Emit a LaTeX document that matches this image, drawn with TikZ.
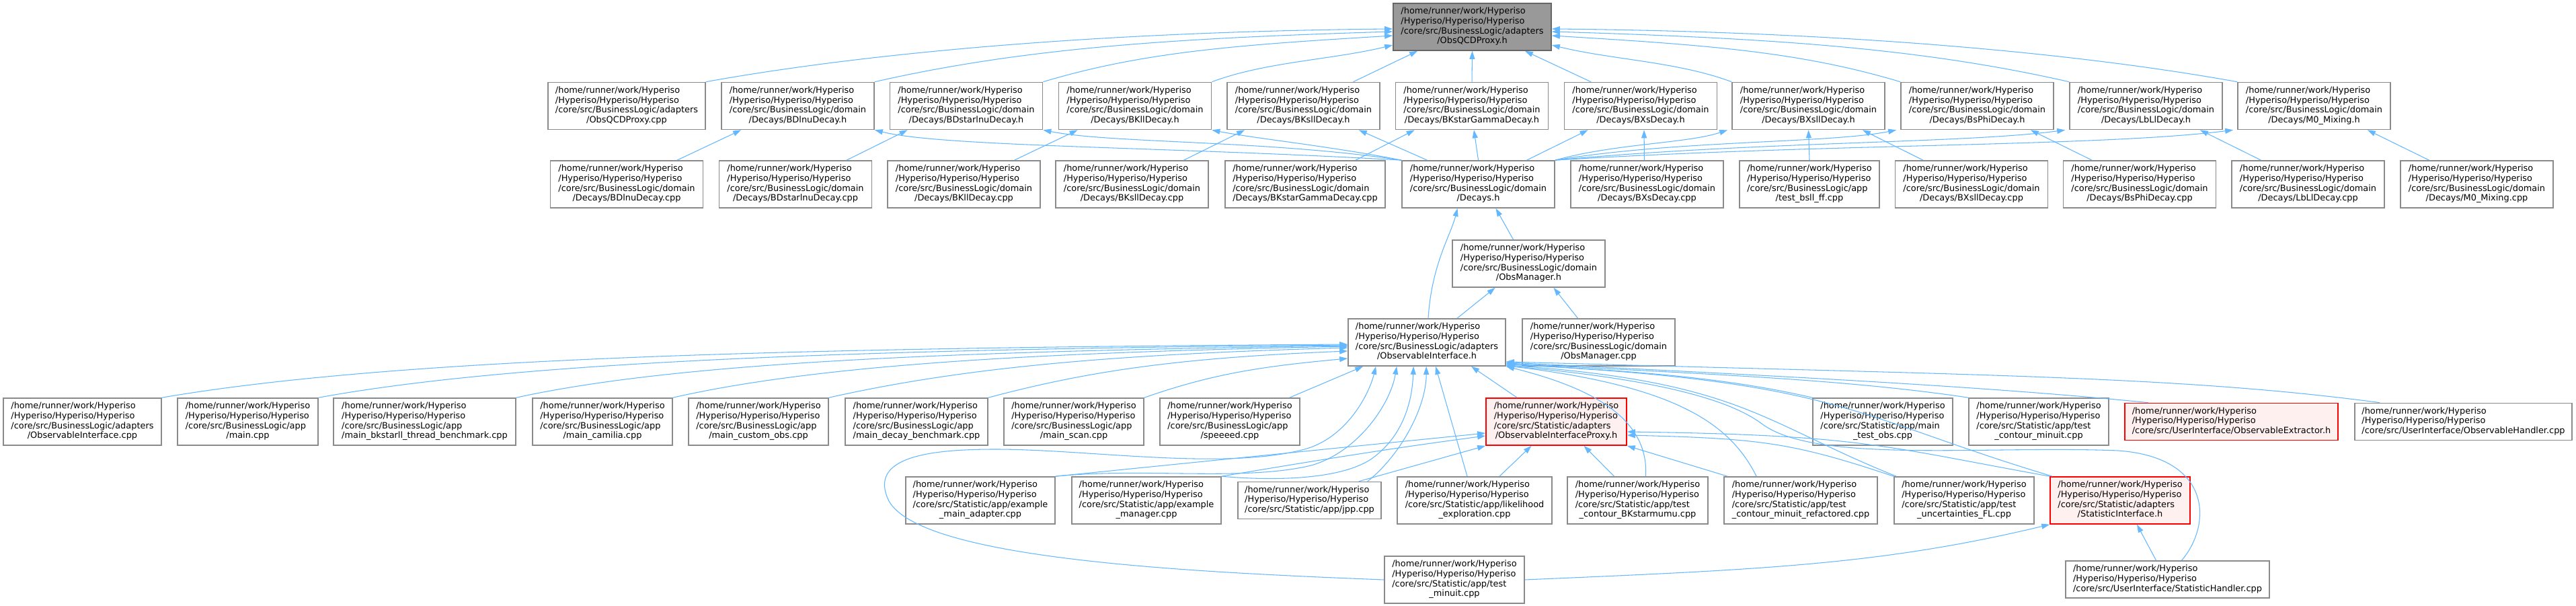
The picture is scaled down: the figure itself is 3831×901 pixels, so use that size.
\documentclass[tikz,border=0pt]{standalone}
\usepackage{fontspec}
\setmainfont{DejaVu Sans}
\usetikzlibrary{calc, arrows.meta}

\definecolor{edgeblue}{HTML}{63B8FF}
\definecolor{boxborder}{HTML}{8A8A8A}
\definecolor{rootborder}{HTML}{666666}
\definecolor{rootfill}{HTML}{999999}
\definecolor{cutfill}{HTML}{FFF0F0}

% rows of the graph (px, y downwards)
\newcommand{\ROOTY}{40}
\newcommand{\HEADERY}{157.5}
\newcommand{\SOURCEY}{274}
\newcommand{\MANAGERY}{392}
\newcommand{\INTERFACEY}{509}
\newcommand{\APPY}{627}
\newcommand{\STATY}{744}
\newcommand{\BOTTOMY}{862}

\newcommand{\FILEFONT}{\fontsize{3.67pt}{4.18pt}\selectfont}
\newcommand{\HYPERISO}{/home/runner/work/Hyperiso\\/Hyperiso/Hyperiso/Hyperiso}
\newcommand{\fpath}[2]{\begin{tabular}{@{}l@{}}\HYPERISO\\#1\\\multicolumn{1}{@{}c@{}}{#2}\end{tabular}}
\newcommand{\fpathshort}[1]{\begin{tabular}{@{}l@{}}\HYPERISO\\\multicolumn{1}{@{}c@{}}{#1}\end{tabular}}

\tikzset{
  file/.style={draw=boxborder, fill=white, line width=0.45pt, inner sep=0pt,
    minimum width=2.27cm, minimum height=0.70cm, font=\FILEFONT},
  file3/.style={file, minimum height=0.55cm},
  rootfile/.style={draw=rootborder, fill=rootfill},
  cutfile/.style={draw=red, fill=cutfill},
  dep/.style={draw=edgeblue, line width=0.3pt, -{Triangle[length=0.12cm, width=0.08cm]}}
}

\begin{document}
\begin{tikzpicture}[x=0.01cm, y=-0.01cm]
        \fill[white] (0,0) rectangle (3831,901);
        \useasboundingbox (0,0) rectangle (3831,901);

        % 被包含的文件
        \node[file, rootfile, minimum width=2.35cm] (root) at (2189.5,\ROOTY) {\fpath{/core/src/BusinessLogic/adapters}{/ObsQCDProxy.h}};

        % 第二行: 头文件
        \node[file, minimum width=2.34cm] (qcdcpp) at (932,\HEADERY) {\fpath{/core/src/BusinessLogic/adapters}{/ObsQCDProxy.cpp}};
        \node[file] (bdlnuh) at (1186.5,\HEADERY) {\fpath{/core/src/BusinessLogic/domain}{/Decays/BDlnuDecay.h}};
        \node[file] (bdstarh) at (1437,\HEADERY) {\fpath{/core/src/BusinessLogic/domain}{/Decays/BDstarlnuDecay.h}};
        \node[file] (bkllh) at (1688,\HEADERY) {\fpath{/core/src/BusinessLogic/domain}{/Decays/BKllDecay.h}};
        \node[file] (bksllh) at (1938.5,\HEADERY) {\fpath{/core/src/BusinessLogic/domain}{/Decays/BKsllDecay.h}};
        \node[file] (bkgammah) at (2189,\HEADERY) {\fpath{/core/src/BusinessLogic/domain}{/Decays/BKstarGammaDecay.h}};
        \node[file] (bxsh) at (2440,\HEADERY) {\fpath{/core/src/BusinessLogic/domain}{/Decays/BXsDecay.h}};
        \node[file] (bxsllh) at (2689.5,\HEADERY) {\fpath{/core/src/BusinessLogic/domain}{/Decays/BXsllDecay.h}};
        \node[file] (bsphih) at (2940.5,\HEADERY) {\fpath{/core/src/BusinessLogic/domain}{/Decays/BsPhiDecay.h}};
        \node[file] (lbllh) at (3191.5,\HEADERY) {\fpath{/core/src/BusinessLogic/domain}{/Decays/LbLlDecay.h}};
        \node[file] (m0h) at (3441.5,\HEADERY) {\fpath{/core/src/BusinessLogic/domain}{/Decays/M0\_Mixing.h}};

        % 第三行: 源文件
        \node[file] (bdlnucpp) at (932,\SOURCEY) {\fpath{/core/src/BusinessLogic/domain}{/Decays/BDlnuDecay.cpp}};
        \node[file] (bdstarcpp) at (1183,\SOURCEY) {\fpath{/core/src/BusinessLogic/domain}{/Decays/BDstarlnuDecay.cpp}};
        \node[file] (bkllcpp) at (1433.5,\SOURCEY) {\fpath{/core/src/BusinessLogic/domain}{/Decays/BKllDecay.cpp}};
        \node[file] (bksllcpp) at (1683.5,\SOURCEY) {\fpath{/core/src/BusinessLogic/domain}{/Decays/BKsllDecay.cpp}};
        \node[file, minimum width=2.38cm] (bkgammacpp) at (1941,\SOURCEY) {\fpath{/core/src/BusinessLogic/domain}{/Decays/BKstarGammaDecay.cpp}};
        \node[file] (decaysh) at (2198.5,\SOURCEY) {\fpath{/core/src/BusinessLogic/domain}{/Decays.h}};
        \node[file] (bxscpp) at (2449.5,\SOURCEY) {\fpath{/core/src/BusinessLogic/domain}{/Decays/BXsDecay.cpp}};
        \node[file, minimum width=2.08cm] (bsllff) at (2691,\SOURCEY) {\fpath{/core/src/BusinessLogic/app}{/test\_bsll\_ff.cpp}};
        \node[file] (bxsllcpp) at (2932,\SOURCEY) {\fpath{/core/src/BusinessLogic/domain}{/Decays/BXsllDecay.cpp}};
        \node[file] (bsphicpp) at (3182,\SOURCEY) {\fpath{/core/src/BusinessLogic/domain}{/Decays/BsPhiDecay.cpp}};
        \node[file] (lbllcpp) at (3432.5,\SOURCEY) {\fpath{/core/src/BusinessLogic/domain}{/Decays/LbLlDecay.cpp}};
        \node[file] (m0cpp) at (3683.5,\SOURCEY) {\fpath{/core/src/BusinessLogic/domain}{/Decays/M0\_Mixing.cpp}};

        % ObsManager 与 ObservableInterface
        \node[file] (obsmanh) at (2273.5,\MANAGERY) {\fpath{/core/src/BusinessLogic/domain}{/ObsManager.h}};
        \node[file, minimum width=2.34cm] (obsifh) at (2122,\INTERFACEY) {\fpath{/core/src/BusinessLogic/adapters}{/ObservableInterface.h}};
        \node[file] (obsmancpp) at (2377.5,\INTERFACEY) {\fpath{/core/src/BusinessLogic/domain}{/ObsManager.cpp}};

        % 第五行: 应用程序
        \node[file, minimum width=2.35cm] (obsifcpp) at (122.5,\APPY) {\fpath{/core/src/BusinessLogic/adapters}{/ObservableInterface.cpp}};
        \node[file, minimum width=2.09cm] (maincpp) at (368.5,\APPY) {\fpath{/core/src/BusinessLogic/app}{/main.cpp}};
        \node[file, minimum width=2.71cm] (mainbk) at (631.5,\APPY) {\fpath{/core/src/BusinessLogic/app}{/main\_bkstarll\_thread\_benchmark.cpp}};
        \node[file, minimum width=2.08cm] (maincam) at (896,\APPY) {\fpath{/core/src/BusinessLogic/app}{/main\_camilia.cpp}};
        \node[file, minimum width=2.08cm] (maincust) at (1128,\APPY) {\fpath{/core/src/BusinessLogic/app}{/main\_custom\_obs.cpp}};
        \node[file, minimum width=2.12cm] (maindecay) at (1363,\APPY) {\fpath{/core/src/BusinessLogic/app}{/main\_decay\_benchmark.cpp}};
        \node[file, minimum width=2.08cm] (mainscan) at (1597,\APPY) {\fpath{/core/src/BusinessLogic/app}{/main\_scan.cpp}};
        \node[file, minimum width=2.08cm] (speeeed) at (1829,\APPY) {\fpath{/core/src/BusinessLogic/app}{/speeeed.cpp}};
        \node[file, cutfile, minimum width=2.09cm] (proxyh) at (2314.5,\APPY) {\fpath{/core/src/Statistic/adapters}{/ObservableInterfaceProxy.h}};
        \node[file, minimum width=2.08cm] (maintestobs) at (2800,\APPY) {\fpath{/core/src/Statistic/app/main}{\_test\_obs.cpp}};
        \node[file, minimum width=2.08cm] (testcontour) at (3032,\APPY) {\fpath{/core/src/Statistic/app/test}{\_contour\_minuit.cpp}};
        \node[file3, cutfile, minimum width=3.17cm] (extractor) at (3318.5,\APPY) {\fpathshort{/core/src/UserInterface/ObservableExtractor.h}};
        \node[file3, minimum width=3.23cm] (handler) at (3663.5,\APPY) {\fpathshort{/core/src/UserInterface/ObservableHandler.cpp}};

        % 第六行: Statistic
        \node[file, minimum width=2.22cm] (exadapter) at (1458,\STATY) {\fpath{/core/src/Statistic/app/example}{\_main\_adapter.cpp}};
        \node[file, minimum width=2.22cm] (exmanager) at (1705,\STATY) {\fpath{/core/src/Statistic/app/example}{\_manager.cpp}};
        \node[file3, minimum width=2.13cm] (jpp) at (1947.5,\STATY) {\fpathshort{/core/src/Statistic/app/jpp.cpp}};
        \node[file, minimum width=2.30cm] (likelihood) at (2193,\STATY) {\fpath{/core/src/Statistic/app/likelihood}{\_exploration.cpp}};
        \node[file, minimum width=2.09cm] (contourbk) at (2435.5,\STATY) {\fpath{/core/src/Statistic/app/test}{\_contour\_BKstarmumu.cpp}};
        \node[file, minimum width=2.28cm] (contourref) at (2678,\STATY) {\fpath{/core/src/Statistic/app/test}{\_contour\_minuit\_refactored.cpp}};
        \node[file, minimum width=2.08cm] (uncertfl) at (2921,\STATY) {\fpath{/core/src/Statistic/app/test}{\_uncertainties\_FL.cpp}};
        \node[file, cutfile, minimum width=2.08cm] (statifh) at (3153,\STATY) {\fpath{/core/src/Statistic/adapters}{/StatisticInterface.h}};

        % 最后一行
        \node[file, minimum width=2.08cm] (testminuit) at (2163,\BOTTOMY) {\fpath{/core/src/Statistic/app/test}{\_minuit.cpp}};
        \node[file3, minimum width=3.03cm] (stathandler) at (3223.5,861.5) {\fpathshort{/core/src/UserInterface/StatisticHandler.cpp}};

        % 指向 ObsQCDProxy.h
        \draw[dep] (qcdcpp.north east) .. controls +(250,-45) and +(-420,4) .. ($(root.west)+(0,3)$);
        \draw[dep] (bdlnuh.north east) .. controls +(220,-50) and +(-330,10) .. ($(root.west)+(0,7)$);
        \draw[dep] (bdstarh.north east) .. controls +(150,-45) and +(-230,14) .. ($(root.west)+(0,13)$);
        \draw[dep] (bkllh.north east) .. controls +(80,-30) and +(-90,22) .. ($(root.west)+(0,27)$);
        \draw[dep] ($(bksllh.north)+(74,0)$) -- ($(root.south west)+(37,0)$);
        \draw[dep] (bkgammah.north) -- (root.south);
        \draw[dep] ($(bxsh.north)+(-74,0)$) -- ($(root.south east)+(-40,0)$);
        \draw[dep] (bxsllh.north west) .. controls +(-80,-30) and +(90,22) .. ($(root.east)+(0,27)$);
        \draw[dep] (bsphih.north west) .. controls +(-150,-45) and +(230,14) .. ($(root.east)+(0,13)$);
        \draw[dep] (lbllh.north west) .. controls +(-220,-50) and +(330,10) .. ($(root.east)+(0,7)$);
        \draw[dep] (m0h.north west) .. controls +(-250,-45) and +(420,4) .. ($(root.east)+(0,3)$);

        % 源文件 -> 头文件
        \draw[dep] ($(bdlnucpp.north)+(75,0)$) -- ($(bdlnuh.south west)+(30,0)$);
        \draw[dep] ($(bdstarcpp.north)+(76,0)$) -- ($(bdstarh.south west)+(27,0)$);
        \draw[dep] ($(bkllcpp.north)+(75,0)$) -- ($(bkllh.south west)+(29,0)$);
        \draw[dep] ($(bksllcpp.north)+(77,0)$) -- ($(bksllh.south west)+(27,0)$);
        \draw[dep] ($(bkgammacpp.north)+(75,0)$) -- ($(bkgammah.south west)+(29,0)$);
        \draw[dep] ($(bxscpp.north)+(-4,0)$) -- ($(bxsh.south)+(5,0)$);
        \draw[dep] (bsllff.north) -- (bxsllh.south);
        \draw[dep] ($(bxsllcpp.north)+(-72,0)$) -- ($(bxsllh.south east)+(-34,0)$);
        \draw[dep] ($(bsphicpp.north)+(-71,0)$) -- ($(bsphih.south east)+(-35,0)$);
        \draw[dep] ($(lbllcpp.north)+(-70,0)$) -- ($(lbllh.south east)+(-34,0)$);
        \draw[dep] ($(m0cpp.north)+(-71,0)$) -- ($(m0h.south east)+(-35,0)$);

        % Decays.h -> 各个头文件
        \draw[dep] (decaysh.north west) .. controls +(-350,-20) and +(100,25) .. (bdlnuh.south east);
        \draw[dep] (decaysh.north west) .. controls +(-200,-30) and +(100,20) .. (bdstarh.south east);
        \draw[dep] (decaysh.north west) .. controls +(-100,-20) and +(60,12) .. (bkllh.south east);
        \draw[dep] ($(decaysh.north)+(-76,0)$) -- ($(bksllh.south east)+(-32,0)$);
        \draw[dep] (decaysh.north) -- ($(bkgammah.south)+(3,0)$);
        \draw[dep] ($(decaysh.north)+(72,0)$) -- ($(bxsh.south west)+(36,0)$);
        \draw[dep] (decaysh.north east) .. controls +(90,-25) and +(-60,20) .. ($(bxsllh.south west)+(-6,0)$);
        \draw[dep] (decaysh.north east) .. controls +(180,-30) and +(-100,20) .. ($(bsphih.south west)+(-6,0)$);
        \draw[dep] (decaysh.north east) .. controls +(300,-28) and +(-150,20) .. ($(lbllh.south west)+(-6,0)$);
        \draw[dep] (decaysh.north east) .. controls +(400,-25) and +(-200,25) .. ($(m0h.south west)+(-6,0)$);

        % ObsManager
        \draw[dep] ($(obsmanh.north)+(-23,0)$) -- ($(decaysh.south)+(26,0)$);
        \draw[dep] ($(obsifh.north)+(2,0)$) .. controls +(5,-80) and +(-10,40) .. ($(decaysh.south)+(-31,0)$);
        \draw[dep] ($(obsifh.north)+(45,0)$) -- ($(obsmanh.south)+(-50,0)$);
        \draw[dep] ($(obsmancpp.north)+(-31,0)$) -- ($(obsmanh.south)+(37,0)$);

        % 应用程序 -> ObservableInterface.h
        \draw[dep] (obsifcpp.north east) .. controls +(350,-60) and +(-800,5) .. ($(obsifh.west)+(0,3)$);
        \draw[dep] (maincpp.north east) .. controls +(300,-55) and +(-700,6) .. ($(obsifh.west)+(0,4)$);
        \draw[dep] (mainbk.north east) .. controls +(250,-55) and +(-550,8) .. ($(obsifh.west)+(0,5)$);
        \draw[dep] (maincam.north east) .. controls +(220,-50) and +(-450,9) .. ($(obsifh.west)+(0,6)$);
        \draw[dep] (maincust.north east) .. controls +(200,-45) and +(-350,10) .. ($(obsifh.west)+(0,8)$);
        \draw[dep] (maindecay.north east) .. controls +(150,-40) and +(-250,10) .. ($(obsifh.west)+(0,13)$);
        \draw[dep] (mainscan.north east) .. controls +(100,-35) and +(-130,12) .. ($(obsifh.west)+(0,24)$);
        \draw[dep] ($(speeeed.north east)+(-16,0)$) -- ($(obsifh.south west)+(23,0)$);

        % 下方 -> ObservableInterface.h
        \draw[dep] (testminuit.west) .. controls (1750,850) and (1370,830) .. (1322,745)
            .. controls (1290,680) and (1380,668) .. (1480,668)
            .. controls (1620,668) and (1820,700) .. (1940,668)
            .. controls (2000,652) and (2035,590) .. ($(obsifh.south west)+(42,0)$);
        \draw[dep] (exadapter.north east) .. controls (1700,695) and (1850,716) .. (1950,692)
            .. controls (2020,672) and (2068,600) .. ($(obsifh.south west)+(73,0)$);
        \draw[dep] (exmanager.north east) .. controls (1880,714) and (1990,716) .. (2040,682)
            .. controls (2085,650) and (2100,600) .. ($(obsifh.south west)+(98,0)$);
        \draw[dep] ($(jpp.north east)+(-21,0)$) .. controls +(50,-40) and +(0,60) .. ($(obsifh.south west)+(117,0)$);
        \draw[dep] ($(likelihood.north)+(-11,0)$) -- ($(obsifh.south)+(13,0)$);
        \draw[dep] ($(proxyh.north west)+(47,0)$) -- ($(obsifh.south)+(66,0)$);
        \draw[dep] ($(contourbk.north)+(12,0)$) .. controls +(5,-90) and +(120,30) .. (obsifh.south east);
        \draw[dep] ($(contourref.north west)+(49,0)$) .. controls +(-40,-80) and +(250,30) .. ($(obsifh.south east)+(0,-1)$);
        \draw[dep] ($(uncertfl.north west)+(4,0)$) .. controls +(-200,-80) and +(350,25) .. ($(obsifh.south east)+(0,-2)$);
        \draw[dep] ($(statifh.north west)+(4,0)$) .. controls +(-300,-90) and +(500,25) .. ($(obsifh.south east)+(0,-3)$);
        \draw[dep] ($(stathandler.north)+(21,0)$) .. controls (3290,780) and (3290,680) .. (3150,670)
            .. controls (2950,662) and (2700,690) .. (2620,630)
            .. controls (2560,585) and (2420,560) .. ($(obsifh.south east)+(0,-1)$);
        \draw[dep] (maintestobs.north west) .. controls +(-150,-35) and +(150,10) .. ($(obsifh.south east)+(0,-4)$);
        \draw[dep] (testcontour.north west) .. controls +(-200,-30) and +(250,15) .. ($(obsifh.south east)+(0,-5)$);
        \draw[dep] ($(extractor.north west)+(36,0)$) .. controls +(-250,-25) and +(400,20) .. ($(obsifh.south east)+(0,-6)$);
        \draw[dep] ($(handler.north west)+(38,0)$) .. controls +(-300,-40) and +(700,20) .. ($(obsifh.south east)+(0,-7)$);

        % -> ObservableInterfaceProxy.h
        \draw[dep] (exadapter.north east) .. controls +(200,-20) and +(-200,20) .. ($(proxyh.west)+(0,17)$);
        \draw[dep] (exmanager.north east) .. controls +(150,-25) and +(-150,20) .. ($(proxyh.west)+(0,21)$);
        \draw[dep] ($(jpp.north east)+(-34,0)$) -- (proxyh.south west);
        \draw[dep] ($(likelihood.north)+(37,0)$) -- ($(proxyh.south)+(-37,0)$);
        \draw[dep] ($(contourbk.north)+(-35,0)$) -- ($(proxyh.south)+(41,0)$);
        \draw[dep] ($(contourref.north west)+(6,0)$) -- (proxyh.south east);
        \draw[dep] (uncertfl.north west) .. controls +(-150,-50) and +(200,5) .. ($(proxyh.east)+(0,20)$);
        \draw[dep] (statifh.north west) .. controls +(-250,-45) and +(350,5) .. ($(proxyh.east)+(0,15)$);

        % -> StatisticInterface.h
        \draw[dep] (testminuit.east) .. controls +(350,-15) and +(-250,60) .. (statifh.south west);
        \draw[dep] ($(stathandler.north)+(-17,0)$) -- ($(statifh.south)+(25,0)$);

    \end{tikzpicture}
\end{document}
